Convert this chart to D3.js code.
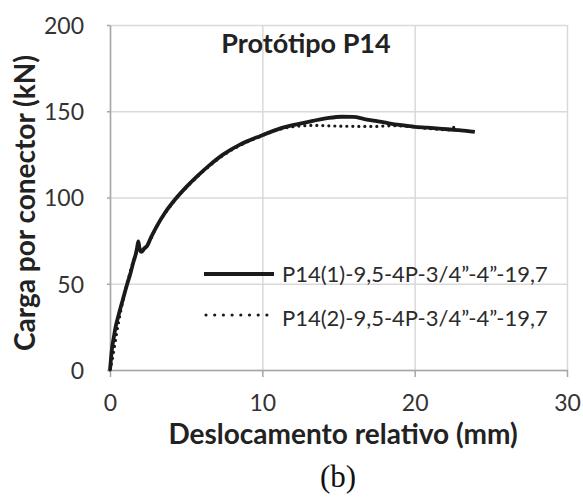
<!DOCTYPE html>
<html>
<head>
<meta charset="utf-8">
<script src="https://cdn.jsdelivr.net/npm/d3@7"></script>
<style>
  body { margin: 0; background: #fff; }
  svg text { font-family: Lato, "Open Sans", sans-serif; fill: #2b2b2b; }
  .grid line { stroke: #d9d9d9; stroke-width: 1.5; }
  .axis path, .axis line { stroke: #a6a6a6; stroke-width: 1.5; }
  .axis text { font-size: 23px; fill: #333; }
  .ttl { font-weight: bold; fill: #222; }
</style>
</head>
<body>
<svg id="chart" width="583" height="497"></svg>
<script>
var X_TICKS = [0, 10, 20, 30];
var Y_TICKS = [0, 50, 100, 150, 200];
var SERIES_NAMES = ["P14(1)-9,5-4P-3/4\u201d-4\u201d-19,7", "P14(2)-9,5-4P-3/4\u201d-4\u201d-19,7"];

// deslocamento (mm), carga (kN)
var P14_1 = [
  [0,0],[0.05,5],[0.12,11.6],[0.25,19],[0.37,25],[0.6,33],[0.85,41],[1.1,49],[1.34,56],
  [1.55,63],[1.7,67.5],[1.78,71],[1.86,74.5],[1.95,70],[2.07,68.5],[2.25,70.5],[2.44,72],
  [2.7,77],[3.05,83],[3.6,91],[4.27,98.8],[5.0,106],[5.73,112.4],[6.5,118.5],[7.44,125],
  [8.5,130.5],[9.88,135.7],[11.34,140.5],[12.8,143.4],[14.27,146],[15.2,146.8],[15.98,146.7],
  [16.7,145.5],[17.44,144.4],[18.3,143],[19.15,141.9],[20,141],[20.85,140.5],[21.8,139.8],
  [22.8,139.1],[23.4,138.6],[23.95,138]
];

var P14_2 = [
  [0,0],[0.15,6],[0.3,14],[0.45,22],[0.7,34],[1.0,46],[1.3,56],[1.6,65],[1.9,70],[2.2,70],
  [2.5,73],[3.05,83],[4.27,98.5],[5.73,112],[7.44,124.5],[9.88,135.5],[11.34,140],[12.5,141.5],
  [13.5,141.8],[14.5,141.5],[15.5,141.3],[16.5,141.2],[17.4,141.2],[18.5,141.6],[19.5,141.2],
  [20.5,140.3],[21.6,139.5],[22.3,139.2],[22.76,143]
];

document.addEventListener("DOMContentLoaded", function() {
  drawChart();
})

function drawChart(){
  const svg = d3.select("#chart"),
    left = 110, right = 567, top = 25, bottom = 370;

  const x = d3.scaleLinear().domain([0, 30]).range([left, right]);
  const y = d3.scaleLinear().domain([0, 200]).range([bottom, top]);

  // grid
  svg.append("g")
    .attr("class", "grid")
    .attr("transform", "translate(0," + bottom + ")")
    .call(d3.axisBottom(x).tickValues(X_TICKS).tickSize(-(bottom - top)).tickFormat(""))
    .call(g => g.select(".domain").remove());

  svg.append("g")
    .attr("class", "grid")
    .attr("transform", "translate(" + left + ",0)")
    .call(d3.axisLeft(y).tickValues(Y_TICKS).tickSize(-(right - left)).tickFormat(""))
    .call(g => g.select(".domain").remove());

  // axes
  svg.append("g")
    .attr("class", "axis")
    .attr("transform", "translate(0," + bottom + ")")
    .call(d3.axisBottom(x).tickValues(X_TICKS).tickSizeInner(7).tickSizeOuter(0).tickPadding(18));

  const yAxis = svg.append("g")
    .attr("class", "axis")
    .attr("transform", "translate(" + left + ",0)")
    .call(d3.axisLeft(y).tickValues(Y_TICKS).tickSizeInner(3).tickSizeOuter(0).tickPadding(23));
  yAxis.selectAll("text").attr("dy", "0.36em");

  // curves
  const line = d3.line()
    .x((d) => (x(d[0])))
    .y((d) => (y(d[1])))
    .curve(d3.curveMonotoneX);

  svg.append("path")
    .datum(P14_2)
    .attr("d", line)
    .attr("fill", "none")
    .attr("stroke", "#1a1a1a")
    .attr("stroke-width", 3.2)
    .attr("stroke-linecap", "round")
    .attr("stroke-dasharray", "0,6");

  svg.append("path")
    .datum(P14_1)
    .attr("d", line)
    .attr("fill", "none")
    .attr("stroke", "#1a1a1a")
    .attr("stroke-width", 3.8)
    .attr("stroke-linejoin", "round");

  // legend
  const leg = svg.append("g").attr("transform", "translate(204,274)");
  leg.append("line")
    .attr("x1", 0).attr("x2", 70).attr("y1", 0).attr("y2", 0)
    .attr("stroke", "#1a1a1a").attr("stroke-width", 3.8);
  leg.append("line")
    .attr("x1", 2).attr("x2", 63).attr("y1", 41).attr("y2", 41)
    .attr("stroke", "#1a1a1a").attr("stroke-width", 3.2)
    .attr("stroke-linecap", "round").attr("stroke-dasharray", "0,8.7");

  leg.selectAll(".leg-text")
      .data(SERIES_NAMES)
    .enter()
      .append("text")
      .attr("class", "leg-text")
      .attr("x", 78)
      .attr("y", (d, i) => (i * 44 + 8))
      .style("font-size", "22px")
      .text((d) => d);

  // titles
  svg.append("text")
    .attr("class", "ttl")
    .attr("x", 306).attr("y", 53)
    .attr("text-anchor", "middle")
    .style("font-size", "27px")
    .text("Protótipo P14");

  svg.append("text")
    .attr("class", "ttl")
    .attr("transform", "translate(35,203) rotate(-90)")
    .attr("text-anchor", "middle")
    .style("font-size", "28px")
    .text("Carga por conector (kN)");

  svg.append("text")
    .attr("class", "ttl")
    .attr("x", 343).attr("y", 444)
    .attr("text-anchor", "middle")
    .style("font-size", "28px")
    .text("Deslocamento relativo (mm)");

  svg.append("text")
    .attr("x", 338).attr("y", 487)
    .attr("text-anchor", "middle")
    .style("font-family", "'Liberation Serif', 'DejaVu Serif', serif")
    .style("font-size", "31px")
    .style("fill", "#111")
    .text("(b)");
}
</script>
</body>
</html>
